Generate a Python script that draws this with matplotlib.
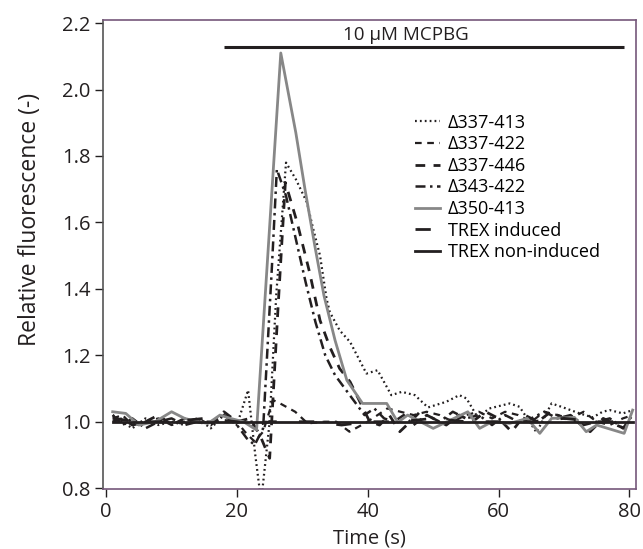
import matplotlib
matplotlib.use("Agg")
import matplotlib.pyplot as plt

plt.rcParams['font.family'] = ['Open Sans', 'DejaVu Sans']

# Δ337-413 (dotted)
t_413 = [1, 2.5, 4, 6, 8, 10, 12, 14, 16, 18, 20, 21.7, 22.8, 23.7, 25.0, 26.0, 27.5, 29, 30.7,
         31.6, 32.7, 33.7, 34.2, 35.7, 37.3, 39.8, 41.5, 43.6, 45.2, 47.2, 49.2, 52, 54, 55.1,
         56.8, 58.6, 61.7, 63.2, 65.8, 68.1, 69.6, 72.4, 74.4, 75.9, 77, 79, 80.5]
y_413 = [1.02, 1.0, 0.98, 1.01, 0.99, 1.0, 0.99, 1.01, 0.98, 1.02, 0.99, 1.095, 0.90, 0.76, 1.0,
         1.38, 1.78, 1.73, 1.66, 1.585, 1.50, 1.37, 1.33, 1.275, 1.24, 1.145, 1.155, 1.08, 1.09,
         1.08, 1.043, 1.06, 1.08, 1.07, 1.013, 1.04, 1.055, 1.045, 0.968, 1.055, 1.045, 1.025,
         1.013, 1.03, 1.035, 1.025, 1.035]

# Δ337-422 (short dashes)
t_422 = [1, 2.5, 4, 6, 8, 10, 12, 14, 16, 18, 20, 21.2, 22.7, 24.0, 25.5, 26.6, 28.9, 30.8,
         33.4, 35.2, 37.2, 39.8, 41.5, 43, 45, 47, 49, 51, 53, 55, 57, 59, 61, 63, 65, 67, 69,
         71, 73, 75, 77, 79, 80.5]
y_422 = [1.01, 1.02, 0.99, 1.0, 1.01, 0.99, 1.0, 1.01, 0.99, 1.02, 1.0, 0.97, 0.94, 0.97, 1.065,
         1.055, 1.03, 0.995, 1.0, 1.0, 0.97, 0.998, 1.02, 1.04, 1.03, 1.02, 1.03, 1.02, 1.0,
         1.02, 1.03, 1.01, 1.03, 1.02, 1.0, 1.03, 1.02, 1.01, 1.03, 1.0, 0.99, 1.01, 1.02]

# Δ337-446 (medium dashes)
t_446 = [1, 2.5, 4, 6, 8, 10, 12, 14, 16, 18, 20, 22, 23.5, 25.0, 26.3, 27.4, 29.2, 31.1, 32.7,
         34.2, 35.7, 37.3, 38.8, 40.3, 41.8, 43.3, 44.9, 46.5, 48, 50, 52, 54, 56, 58, 60, 62,
         64, 66, 68, 70, 72, 74, 76, 78, 80.5]
y_446 = [1.0, 1.01, 0.99, 1.0, 1.02, 0.99, 1.01, 1.0, 0.99, 1.03, 1.0, 1.01, 0.96, 0.89, 1.35,
         1.72, 1.60, 1.45, 1.305, 1.225, 1.16, 1.12, 1.06, 1.0, 0.99, 1.02, 0.97, 1.0, 1.03, 1.01,
         0.99, 1.02, 1.0, 1.03, 1.01, 0.97, 1.02, 1.0, 1.03, 1.01, 1.0, 0.97, 1.01, 0.99, 0.97]

# Δ343-422 (dash-dot)
t_343 = [1, 2.5, 4, 6, 8, 10, 12, 14, 16, 18, 20, 21.5, 22.7, 24.0, 25.3, 26.1, 27.5, 29, 30.5,
         32, 33.5, 35, 36.5, 38, 39.5, 41, 42.5, 44, 45.5, 47, 49, 51, 53, 55, 57, 59, 61, 63,
         65, 67, 69, 71, 73, 75, 77, 79, 80.5]
y_343 = [1.02, 0.99, 1.01, 0.98, 1.0, 1.01, 0.99, 1.0, 1.0, 1.02, 0.99, 0.95, 0.93, 0.98, 1.45,
         1.76, 1.68, 1.55, 1.42, 1.30, 1.20, 1.14, 1.10, 1.06, 1.02, 1.04, 1.01, 1.0, 1.02, 0.99,
         1.02, 1.0, 1.03, 1.01, 1.02, 0.99, 1.02, 1.0, 1.01, 1.03, 1.01, 1.02, 0.99, 1.0, 1.01,
         0.98, 1.02]

# Δ350-413 (grey solid)
t_350 = [1, 3, 5, 7.5, 10, 12, 14, 15.6, 17.4, 19, 21, 23, 26.7, 29.0, 30.4, 31.9, 33.3, 35.0,
         36.8, 39.2, 42.9, 44.6, 46.1, 50, 55.3, 57.1, 59, 61.7, 64.4, 66.3, 68.1, 71.6, 73.4,
         75, 79.2, 80.5]
y_350 = [1.03, 1.025, 0.99, 1.0, 1.03, 1.01, 1.0, 0.995, 1.02, 1.01, 1.0, 0.975, 2.11, 1.87,
         1.70, 1.53, 1.38, 1.245, 1.125, 1.055, 1.055, 0.998, 1.02, 0.98, 1.03, 0.98, 1.0, 0.995,
         1.01, 0.965, 1.01, 1.013, 0.97, 0.99, 0.965, 1.035]

# TREX induced (long dashes)
t_ind = [1, 5, 10, 15, 20, 23, 25, 28, 32, 36, 40, 45, 50, 55, 60, 65, 70, 75, 80.5]
y_ind = [1.01, 1.0, 1.0, 1.01, 1.0, 0.99, 1.0, 1.0, 1.0, 0.99, 1.0, 1.0, 1.01, 1.0, 1.0, 1.0,
         1.01, 1.0, 1.0]

# TREX non-induced (solid black)
t_non = [1, 10, 20, 30, 40, 50, 60, 70, 80.5]
y_non = [1.0, 1.0, 1.0, 1.0, 1.0, 1.0, 1.0, 1.0, 1.0]

labels = ['Δ337-413', 'Δ337-422', 'Δ337-446', 'Δ343-422', 'Δ350-413',
          'TREX induced', 'TREX non-induced']

fig = plt.figure(figsize=(6.43, 5.49), dpi=100)
ax = fig.add_axes([0.160, 0.109, 0.829, 0.855])

ink = '#231f20'
ax.plot(t_413, y_413, color=ink, lw=1.6, linestyle=(0, (0.8, 1.4)), label=labels[0])
ax.plot(t_422, y_422, color=ink, lw=1.6, linestyle=(0, (3, 2.5)), label=labels[1])
ax.plot(t_446, y_446, color=ink, lw=2.0, linestyle=(0, (3.5, 3)), label=labels[2])
ax.plot(t_343, y_343, color=ink, lw=1.8, linestyle=(0, (4, 1.8, 1, 1.8)), label=labels[3])
ax.plot(t_350, y_350, color='#878787', lw=2.0, label=labels[4])
ax.plot(t_ind, y_ind, color=ink, lw=2.0, linestyle=(0, (5.5, 8)), label=labels[5])
ax.plot(t_non, y_non, color=ink, lw=2.0, label=labels[6])

# stimulus bar
ax.plot([18.0, 79.2], [2.128, 2.128], color=ink, lw=2.2, solid_capstyle='butt')
ax.text(45.8, 2.138, '10 µM MCPBG', ha='center', va='bottom', fontsize=13.5, color=ink)

ax.set_xlim(-0.5, 81)
ax.set_ylim(0.797, 2.21)
ax.set_xticks([0, 20, 40, 60, 80])
ax.set_yticks([0.8, 1.0, 1.2, 1.4, 1.6, 1.8, 2.0, 2.2])
ax.set_yticklabels(['%.1f' % v for v in ax.get_yticks()])
ax.tick_params(direction='out', length=6, width=1, labelsize=14.5, colors=ink)
ax.tick_params(axis='x', pad=3)
ax.tick_params(axis='y', pad=3)

for side in ['top', 'bottom', 'right']:
    ax.spines[side].set_color('#76587a')
    ax.spines[side].set_linewidth(1.2)
ax.spines['left'].set_color('#555555')
ax.spines['left'].set_linewidth(1.2)

ax.set_xlabel('Time (s)', fontsize=14.5, color=ink)
ax.set_ylabel('Relative fluorescence (-)', fontsize=16.5, color=ink)
ax.xaxis.set_label_coords(0.5, -0.083)
ax.yaxis.set_label_coords(-0.115, 0.575)

ax.legend(loc='upper left', bbox_to_anchor=(0.585, 0.80), frameon=False, fontsize=13,
          handlelength=1.4, handletextpad=0.45, labelspacing=0.2, borderaxespad=0,
          borderpad=0)

fig.savefig('out.png', dpi=100)
